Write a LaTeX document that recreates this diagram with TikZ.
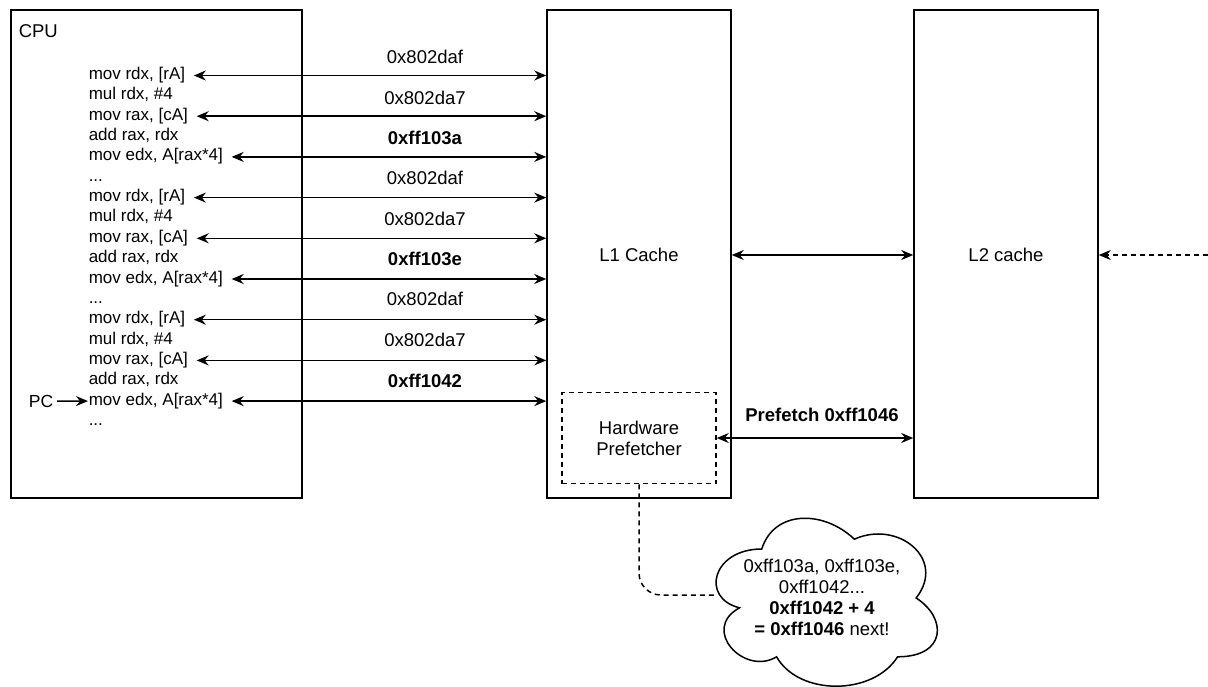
\documentclass[tikz,border=0pt]{standalone}
\usepackage{fontspec}
\setmainfont{Liberation Sans}
\usetikzlibrary{arrows.meta,calc}
\newcommand\codedots{.\kern0pt.\kern0pt.}
\begin{document}
\begin{tikzpicture}[x=1pt,y=-1pt,
  font=\fontsize{18.5}{21}\selectfont,
  line width=1.5pt,
  >={Stealth[length=12pt,width=10pt,inset=4pt]},
  block/.style={draw,minimum width=#1,inner sep=0},
  code/.style={anchor=west,inner xsep=8pt,inner ysep=0,text height=12pt,text depth=4pt,
               font=\fontsize{17}{20.35}\selectfont},
  addr/.style={inner sep=0},
  link/.style={<->},
  hint/.style={dashed,dash pattern=on 5pt off 4pt}]
  \useasboundingbox (0,0) rectangle (1208,686);

  % main blocks
  \node[block=291pt,minimum height=488pt] (cpu) at (156.5,254) {};
  \node[block=184pt,minimum height=488pt] (l1) at (639,254) {};
  \node[block=184pt,minimum height=488pt] (l2) at (1006,254) {};
  \node[anchor=base west,inner sep=0] (cpulabel) at (18,37.3) {CPU};
  \node (l1label) at (639,255) {L1 Cache};
  \node (l2label) at (1006,255) {L2 cache};

  % hardware prefetcher inside L1
  \node[draw,hint,minimum width=154pt,minimum height=91pt,align=center,inner sep=0] (pf) at (639,438)
    {Hardware\\Prefetcher};

  % instruction listing
  \node[code] (c0)  at (80,75.5)  {mov rdx, [rA]};
  \node[code] (c1)  at (80,95.85) {mul rdx, \#4};
  \node[code] (c2)  at (80,116.2) {mov rax, [cA]};
  \node[code] (c3)  at (80,136.55) {add rax, rdx};
  \node[code] (c4)  at (80,156.9) {mov edx, A[rax*4]};
  \node[code] (c5)  at (80,177.25) {\codedots};
  \node[code] (c6)  at (80,197.6) {mov rdx, [rA]};
  \node[code] (c7)  at (80,217.95) {mul rdx, \#4};
  \node[code] (c8)  at (80,238.3) {mov rax, [cA]};
  \node[code] (c9)  at (80,258.65) {add rax, rdx};
  \node[code] (c10) at (80,279.0) {mov edx, A[rax*4]};
  \node[code] (c11) at (80,299.35) {\codedots};
  \node[code] (c12) at (80,319.7) {mov rdx, [rA]};
  \node[code] (c13) at (80,340.05) {mul rdx, \#4};
  \node[code] (c14) at (80,360.4) {mov rax, [cA]};
  \node[code] (c15) at (80,380.75) {add rax, rdx};
  \node[code] (c16) at (80,401.1) {mov edx, A[rax*4]};
  \node[code] (c17) at (80,421.45) {\codedots};

  % loads between the CPU and L1
  \foreach \i in {0,2,4,6,8,10,12,14,16}
    \draw[link] (c\i.east) -- (l1.west |- c\i.east);
  \node[addr] (a0)  at (425,56.5)  {0x802daf};
  \node[addr] (a2)  at (425,97.5)  {0x802da7};
  \node[addr] (a4)  at (425,138.0) {\textbf{0xff103a}};
  \node[addr] (a6)  at (425,177.5) {0x802daf};
  \node[addr] (a8)  at (425,219.0) {0x802da7};
  \node[addr] (a10) at (425,259.0) {\textbf{0xff103e}};
  \node[addr] (a12) at (425,298.5) {0x802daf};
  \node[addr] (a14) at (425,340.0) {0x802da7};
  \node[addr] (a16) at (425,380.5) {\textbf{0xff1042}};

  % program counter
  \node[font=\fontsize{17.5}{20}\selectfont] (pc) at (41,401) {PC};
  \draw[->] (pc.east) -- ([xshift=8pt]c16.west);

  % L1 <-> L2 traffic
  \draw[link] (l1.east |- l1label) -- (l2.west |- l1label);
  \draw[link] (pf.east) -- (l2.west |- pf.east);
  \node[font=\fontsize{18.5}{21}\selectfont\bfseries] (pflabel) at (822,415) {Prefetch 0xff1046};

  % traffic from further down the hierarchy
  \coordinate (below) at (1208,255);
  \draw[->,hint] (below) -- (l2.east |- below);

  % prefetcher reasoning: a thought cloud
  \draw (761.75,549) .. controls (712.35,549) and (700,598) .. (739.52,607.8)
        .. controls (700,629.36) and (744.46,676.4) .. (776.57,656.8)
        .. controls (798.8,696) and (872.9,696) .. (897.6,656.8)
        .. controls (947,656.8) and (947,617.6) .. (916.125,598)
        .. controls (947,558.8) and (897.6,519.6) .. (854.375,539.2)
        .. controls (823.5,509.8) and (774.1,509.8) .. (761.75,549) -- cycle;
  \coordinate (cloudin) at (717,595);
  \node[align=center] (cloudtext) at (822,597)
    {0xff103a, 0xff103e,\\0xff1042...\\\textbf{0xff1042 + 4}\\\textbf{= 0xff1046} next!};
  \draw[hint,rounded corners=22pt] (pf.south) |- (cloudin);
\end{tikzpicture}
\end{document}
